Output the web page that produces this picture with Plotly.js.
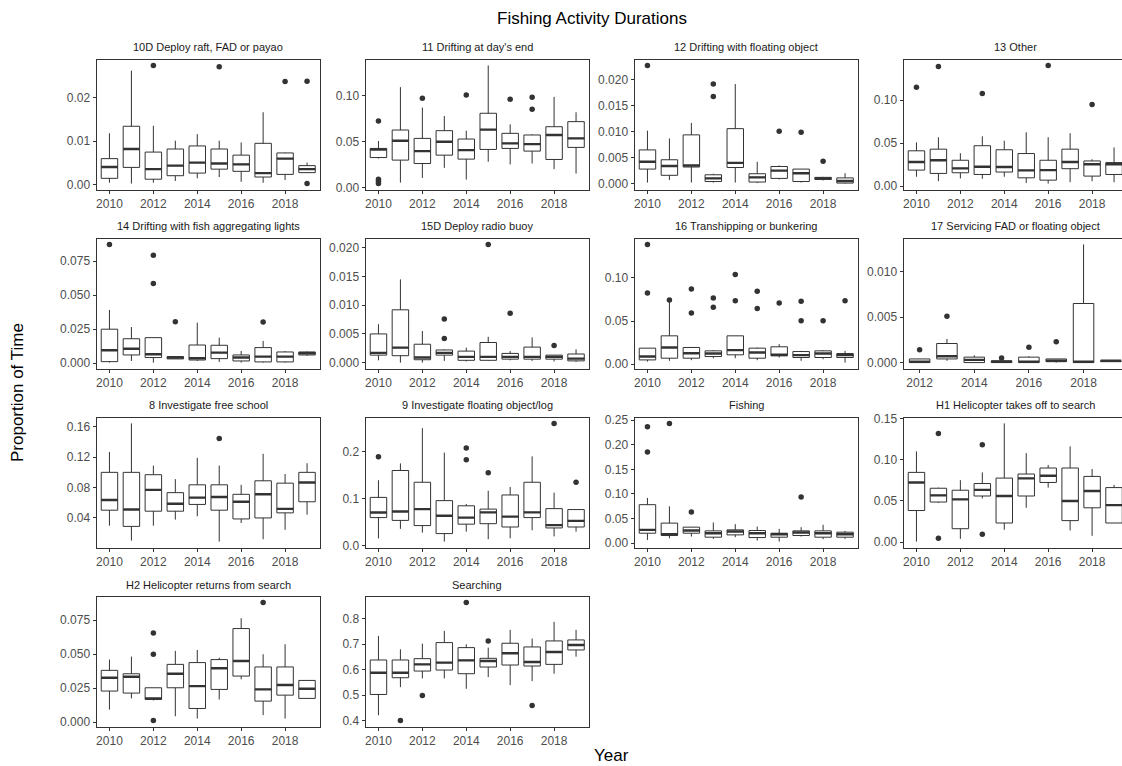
<!DOCTYPE html>
<html><head><meta charset="utf-8">
<script src="https://cdn.plot.ly/plotly-3.0.1.min.js"></script>
<style>html,body{margin:0;padding:0;background:#fff}#chart{width:1122px;height:766px}</style>
</head><body><div id="chart"></div>
<script>
// ---------- DATA ----------
const years = [2010,2011,2012,2013,2014,2015,2016,2017,2018,2019];
const years17 = [2012,2013,2014,2015,2016,2017,2018,2019];

// 10D Deploy raft, FAD or payao
const raft_low  = [0.0005,0.0003,0.0005,0.0009,0.0015,0.0018,0.0007,0.0005,0.0011,0.0027];
const raft_q1   = [0.0015,0.0040,0.0013,0.0021,0.0027,0.0036,0.0031,0.0018,0.0024,0.0028];
const raft_med  = [0.0041,0.0082,0.0036,0.0044,0.0051,0.0049,0.0047,0.0027,0.0060,0.0036];
const raft_q3   = [0.0060,0.0134,0.0075,0.0082,0.0089,0.0082,0.0068,0.0095,0.0073,0.0044];
const raft_high = [0.0118,0.0261,0.0135,0.0101,0.0116,0.0101,0.0097,0.0166,0.0074,0.0051];
const raft_outX = [2012,2015,2018,2019,2019];
const raft_outY = [0.0273,0.0270,0.0236,0.0237,0.0003];

// 11 Drifting at day's end
const dayend_low  = [0.0320,0.0058,0.0109,0.0218,0.0091,0.0284,0.0255,0.0265,0.0204,0.0156];
const dayend_q1   = [0.0330,0.0302,0.0265,0.0356,0.0313,0.0418,0.0429,0.0400,0.0309,0.0440];
const dayend_med  = [0.0418,0.0513,0.0400,0.0502,0.0411,0.0633,0.0484,0.0476,0.0575,0.0538];
const dayend_q3   = [0.0429,0.0629,0.0538,0.0622,0.0531,0.0811,0.0593,0.0575,0.0665,0.0720];
const dayend_high = [0.0510,0.1095,0.0873,0.0782,0.0622,0.1331,0.0691,0.0582,0.0989,0.0822];
const dayend_outX = [2010,2010,2010,2010,2012,2014,2016,2017,2017];
const dayend_outY = [0.0727,0.0095,0.0073,0.0047,0.0975,0.1010,0.0964,0.0985,0.0855];

// 12 Drifting with floating object
const floatobj_low  = [0.0002,0.0007,0.0002,0.0002,0.0002,0.0001,0.0008,0.0002,0.0006,0.0000];
const floatobj_q1   = [0.0028,0.0016,0.0032,0.0004,0.0031,0.0003,0.0010,0.0004,0.0008,0.0001];
const floatobj_med  = [0.0042,0.0034,0.0035,0.0010,0.0040,0.0012,0.0025,0.0020,0.0010,0.0005];
const floatobj_q3   = [0.0065,0.0046,0.0094,0.0017,0.0106,0.0019,0.0033,0.0028,0.0012,0.0011];
const floatobj_high = [0.0102,0.0087,0.0117,0.0019,0.0192,0.0042,0.0035,0.0028,0.0013,0.0020];
const floatobj_outX = [2010,2013,2013,2016,2017,2018];
const floatobj_outY = [0.0228,0.0192,0.0168,0.0101,0.0099,0.0043];

// 13 Other
const other_low  = [0.0110,0.0059,0.0090,0.0086,0.0110,0.0039,0.0031,0.0047,0.0059,0.0047];
const other_q1   = [0.0188,0.0149,0.0157,0.0137,0.0165,0.0098,0.0071,0.0204,0.0118,0.0137];
const other_med  = [0.0282,0.0302,0.0208,0.0227,0.0224,0.0184,0.0188,0.0282,0.0255,0.0255];
const other_q3   = [0.0412,0.0431,0.0302,0.0471,0.0424,0.0380,0.0302,0.0431,0.0294,0.0275];
const other_high = [0.0510,0.0569,0.0384,0.0580,0.0529,0.0627,0.0569,0.0616,0.0314,0.0451];
const other_outX = [2010,2011,2013,2016,2018];
const other_outY = [0.1149,0.1392,0.1078,0.1404,0.0949];

// 14 Drifting with fish aggregating lights
const lights_low  = [0.0005,0.0017,0.0005,0.0032,0.0017,0.0010,0.0005,0.0005,0.0005,0.0054];
const lights_q1   = [0.0012,0.0061,0.0042,0.0032,0.0024,0.0034,0.0017,0.0010,0.0010,0.0061];
const lights_med  = [0.0095,0.0107,0.0066,0.0042,0.0037,0.0078,0.0042,0.0049,0.0049,0.0073];
const lights_q3   = [0.0250,0.0180,0.0188,0.0049,0.0134,0.0132,0.0061,0.0115,0.0083,0.0083];
const lights_high = [0.0391,0.0266,0.0188,0.0049,0.0298,0.0188,0.0090,0.0164,0.0090,0.0086];
const lights_outX = [2010,2012,2012,2013,2017];
const lights_outY = [0.0872,0.0792,0.0586,0.0305,0.0303];

// 15D Deploy radio buoy
const buoy_low  = [0.0004,0.0000,0.0000,0.0003,0.0002,0.0003,0.0004,0.0003,0.0002,0.0001];
const buoy_q1   = [0.0013,0.0012,0.0005,0.0013,0.0004,0.0004,0.0006,0.0006,0.0006,0.0003];
const buoy_med  = [0.0017,0.0026,0.0009,0.0017,0.0010,0.0010,0.0010,0.0010,0.0010,0.0007];
const buoy_q3   = [0.0050,0.0092,0.0032,0.0022,0.0020,0.0035,0.0016,0.0027,0.0013,0.0015];
const buoy_high = [0.0067,0.0145,0.0055,0.0023,0.0026,0.0045,0.0020,0.0044,0.0013,0.0023];
const buoy_outX = [2013,2013,2015,2016,2018];
const buoy_outY = [0.0076,0.0042,0.0206,0.0086,0.0030];

// 16 Transhipping or bunkering
const tranship_low  = [0.0031,0.0039,0.0047,0.0070,0.0070,0.0047,0.0078,0.0039,0.0058,0.0019];
const tranship_q1   = [0.0050,0.0070,0.0070,0.0089,0.0109,0.0070,0.0097,0.0078,0.0078,0.0078];
const tranship_med  = [0.0089,0.0194,0.0128,0.0124,0.0163,0.0136,0.0109,0.0105,0.0124,0.0105];
const tranship_q3   = [0.0186,0.0329,0.0194,0.0155,0.0329,0.0186,0.0202,0.0147,0.0155,0.0124];
const tranship_high = [0.0186,0.0730,0.0194,0.0163,0.0329,0.0194,0.0233,0.0155,0.0163,0.0155];
const tranship_outX = [2010,2010,2011,2012,2012,2013,2013,2014,2014,2015,2015,2016,2017,2017,2018,2019];
const tranship_outY = [0.1388,0.0826,0.0744,0.0872,0.0593,0.0767,0.0659,0.1039,0.0736,0.0845,0.0647,0.0709,0.0729,0.0504,0.0504,0.0736];

// 17 Servicing FAD or floating object (2012-2019)
const servicing_low  = [0.0000,0.0002,0.0000,0.0000,0.0000,0.0000,0.0000,0.0001];
const servicing_q1   = [0.0000,0.0004,0.0000,0.0000,0.0000,0.0001,0.0000,0.0001];
const servicing_med  = [0.0001,0.0007,0.0003,0.0001,0.0001,0.0002,0.0001,0.0002];
const servicing_q3   = [0.0004,0.0021,0.0006,0.0002,0.0006,0.0004,0.0065,0.0002];
const servicing_high = [0.0004,0.0026,0.0008,0.0002,0.0007,0.0004,0.0130,0.0002];
const servicing_outX = [2012,2013,2015,2016,2017];
const servicing_outY = [0.0014,0.0051,0.0005,0.0017,0.0023];

// 8 Investigate free school
const freeschool_low  = [0.0298,0.0102,0.0298,0.0378,0.0422,0.0089,0.0333,0.0120,0.0244,0.0444];
const freeschool_q1   = [0.0502,0.0289,0.0489,0.0489,0.0578,0.0502,0.0387,0.0400,0.0467,0.0613];
const freeschool_med  = [0.0636,0.0511,0.0769,0.0587,0.0667,0.0676,0.0613,0.0711,0.0520,0.0867];
const freeschool_q3   = [0.1000,0.1000,0.0969,0.0733,0.0836,0.0836,0.0711,0.0889,0.0858,0.1000];
const freeschool_high = [0.1267,0.1644,0.1089,0.0911,0.1191,0.1089,0.0836,0.1244,0.0978,0.1120];
const freeschool_outX = [2015];
const freeschool_outY = [0.1444];

// 9 Investigate floating object/log
const invlog_low  = [0.0157,0.0360,0.0280,0.0090,0.0300,0.0140,0.0160,0.0330,0.0200,0.0300];
const invlog_q1   = [0.0600,0.0540,0.0430,0.0260,0.0460,0.0470,0.0400,0.0600,0.0380,0.0400];
const invlog_med  = [0.0707,0.0730,0.0780,0.0640,0.0600,0.0710,0.0620,0.0710,0.0440,0.0530];
const invlog_q3   = [0.1029,0.1600,0.1350,0.0960,0.0850,0.0780,0.1080,0.1350,0.0790,0.0770];
const invlog_high = [0.1393,0.1750,0.2500,0.1980,0.0890,0.1170,0.1250,0.1900,0.1130,0.0780];
const invlog_outX = [2010,2014,2014,2015,2018,2019];
const invlog_outY = [0.1893,0.2080,0.1830,0.1550,0.2600,0.1350];

// Fishing
const fishing_low  = [0.0068,0.0102,0.0136,0.0089,0.0123,0.0054,0.0034,0.0136,0.0082,0.0089];
const fishing_q1   = [0.0204,0.0157,0.0204,0.0123,0.0170,0.0116,0.0123,0.0157,0.0123,0.0123];
const fishing_med  = [0.0272,0.0184,0.0259,0.0204,0.0238,0.0204,0.0184,0.0218,0.0204,0.0184];
const fishing_q3   = [0.0783,0.0409,0.0327,0.0252,0.0272,0.0259,0.0204,0.0252,0.0252,0.0225];
const fishing_high = [0.0920,0.0749,0.0327,0.0422,0.0388,0.0340,0.0293,0.0327,0.0375,0.0252];
const fishing_outX = [2010,2010,2011,2012,2017];
const fishing_outY = [0.2364,0.1853,0.2432,0.0633,0.0940];

// H1 Helicopter takes off to search
const heli1_low  = [0.0008,0.0478,0.0041,0.0531,0.0151,0.0417,0.0662,0.0143,0.0078,0.0233];
const heli1_q1   = [0.0384,0.0487,0.0164,0.0560,0.0233,0.0560,0.0724,0.0262,0.0417,0.0233];
const heli1_med  = [0.0724,0.0568,0.0519,0.0634,0.0560,0.0773,0.0805,0.0499,0.0621,0.0450];
const heli1_q3   = [0.0846,0.0654,0.0630,0.0711,0.0777,0.0826,0.0899,0.0899,0.0797,0.0662];
const heli1_high = [0.1100,0.0662,0.0752,0.0846,0.1439,0.1079,0.0936,0.1161,0.0887,0.0695];
const heli1_outX = [2011,2011,2013,2013];
const heli1_outY = [0.1316,0.0049,0.1182,0.0098];

// H2 Helicopter returns from search
const heli2_low  = [0.0093,0.0175,0.0160,0.0044,0.0027,0.0167,0.0315,0.0052,0.0027,0.0175];
const heli2_q1   = [0.0229,0.0214,0.0167,0.0253,0.0101,0.0241,0.0339,0.0155,0.0199,0.0175];
const heli2_med  = [0.0327,0.0334,0.0175,0.0356,0.0265,0.0396,0.0450,0.0241,0.0273,0.0246];
const heli2_q3   = [0.0381,0.0356,0.0253,0.0425,0.0438,0.0460,0.0688,0.0406,0.0406,0.0307];
const heli2_high = [0.0460,0.0482,0.0253,0.0524,0.0531,0.0474,0.0764,0.0499,0.0573,0.0307];
const heli2_outX = [2012,2012,2012,2017];
const heli2_outY = [0.0656,0.0499,0.0012,0.0880];

// Searching
const search_low  = [0.4210,0.5311,0.5652,0.5652,0.5246,0.5705,0.5390,0.5548,0.5836,0.6505];
const search_q1   = [0.5023,0.5679,0.5941,0.5980,0.5836,0.6098,0.6177,0.6138,0.6203,0.6767];
const search_med  = [0.5875,0.5875,0.6203,0.6269,0.6361,0.6334,0.6636,0.6295,0.6689,0.6964];
const search_q3   = [0.6374,0.6374,0.6426,0.7056,0.6859,0.6439,0.7030,0.6885,0.7121,0.7160];
const search_high = [0.7318,0.6793,0.7016,0.7515,0.6990,0.6859,0.7554,0.7213,0.7869,0.7554];
const search_outX = [2011,2012,2014,2015,2017];
const search_outY = [0.4000,0.4984,0.8630,0.7121,0.4590];

const panelTitles = ["10D Deploy raft, FAD or payao","11 Drifting at day's end","12 Drifting with floating object","13 Other",
  "14 Drifting with fish aggregating lights","15D Deploy radio buoy","16 Transhipping or bunkering","17 Servicing FAD or floating object",
  "8 Investigate free school","9 Investigate floating object/log","Fishing","H1 Helicopter takes off to search",
  "H2 Helicopter returns from search","Searching"];
const yTickStep = [0.01,0.05,0.005,0.05, 0.025,0.005,0.05,0.005, 0.04,0.1,0.05,0.05, 0.025,0.1];
const yTickFmt  = [".2f",".2f",".3f",".2f", ".3f",".3f",".2f",".3f", ".2f",".1f",".2f",".2f", ".3f",".1f"];
const chartTitle = "Fishing Activity Durations";
const xTitle = "Year";
const yTitle = "Proportion of Time";

// ---------- BUILD ----------
const panels = [
  [years, raft_low, raft_q1, raft_med, raft_q3, raft_high, raft_outX, raft_outY],
  [years, dayend_low, dayend_q1, dayend_med, dayend_q3, dayend_high, dayend_outX, dayend_outY],
  [years, floatobj_low, floatobj_q1, floatobj_med, floatobj_q3, floatobj_high, floatobj_outX, floatobj_outY],
  [years, other_low, other_q1, other_med, other_q3, other_high, other_outX, other_outY],
  [years, lights_low, lights_q1, lights_med, lights_q3, lights_high, lights_outX, lights_outY],
  [years, buoy_low, buoy_q1, buoy_med, buoy_q3, buoy_high, buoy_outX, buoy_outY],
  [years, tranship_low, tranship_q1, tranship_med, tranship_q3, tranship_high, tranship_outX, tranship_outY],
  [years17, servicing_low, servicing_q1, servicing_med, servicing_q3, servicing_high, servicing_outX, servicing_outY],
  [years, freeschool_low, freeschool_q1, freeschool_med, freeschool_q3, freeschool_high, freeschool_outX, freeschool_outY],
  [years, invlog_low, invlog_q1, invlog_med, invlog_q3, invlog_high, invlog_outX, invlog_outY],
  [years, fishing_low, fishing_q1, fishing_med, fishing_q3, fishing_high, fishing_outX, fishing_outY],
  [years, heli1_low, heli1_q1, heli1_med, heli1_q3, heli1_high, heli1_outX, heli1_outY],
  [years, heli2_low, heli2_q1, heli2_med, heli2_q3, heli2_high, heli2_outX, heli2_outY],
  [years, search_low, search_q1, search_med, search_q3, search_high, search_outX, search_outY]
];

const W = 1122, H = 766;
const colL = [96.5, 365.5, 634.5, 903.5], PW = 223.5;
const rowT = [59.5, 238.5, 417.5, 596.5], PH = 130;
const BOXW = 0.75, XPAD = 0.59;
const LINE = '#333333';
const FONT = 'Liberation Sans, Arial, sans-serif';

const traces = [];
const layout = {
  width: W, height: H, showlegend: false,
  margin: {l:0, r:0, t:0, b:0},
  paper_bgcolor: '#ffffff', plot_bgcolor: '#ffffff',
  font: {family: FONT, color: '#4d4d4d', size: 12},
  annotations: []
};

panels.forEach((p, i) => {
  const [x, lo, q1, med, q3, hi, ox, oy] = p;
  const r = Math.floor(i / 4), c = i % 4;
  const L = colL[c], R = Math.min(L + PW, W), T = rowT[r], B = T + PH;
  const n = i + 1, sfx = n === 1 ? '' : String(n);
  const xa = 'x' + sfx, ya = 'y' + sfx;

  const xmin = Math.min(...x), xmax = Math.max(...x);
  const ppy = PW / (xmax - xmin + 2 * XPAD);
  const x0 = xmin - XPAD, x1 = x0 + (R - L) / ppy;

  const allY = lo.concat(hi, oy);
  const ymin = Math.min(...allY), ymax = Math.max(...allY);
  const pad = (ymax - ymin) * 0.05;

  traces.push({
    type: 'box', x: x, q1: q1, median: med, q3: q3, lowerfence: lo, upperfence: hi,
    width: BOXW, boxpoints: false, fillcolor: '#ffffff',
    line: {color: LINE, width: 1}, whiskerwidth: 0,
    xaxis: xa, yaxis: ya, hoverinfo: 'skip'
  });
  // thicker median bars
  const mx = [], my = [];
  x.forEach((xv, k) => { mx.push(xv - BOXW/2, xv + BOXW/2, null); my.push(med[k], med[k], null); });
  traces.push({type: 'scatter', mode: 'lines', x: mx, y: my, line: {color: LINE, width: 2.4},
    xaxis: xa, yaxis: ya, hoverinfo: 'skip'});
  traces.push({type: 'scatter', mode: 'markers', x: ox, y: oy,
    marker: {color: LINE, size: 5.5}, xaxis: xa, yaxis: ya, hoverinfo: 'skip'});

  layout['xaxis' + sfx] = {
    domain: [L / W, R / W], anchor: ya, range: [x0, x1],
    tick0: 2010, dtick: 2, ticks: 'outside', ticklen: 3, tickwidth: 1, tickcolor: LINE,
    showline: true, linecolor: LINE, linewidth: 1, mirror: true,
    showgrid: false, zeroline: false, tickfont: {size: 12, color: '#4d4d4d'}, fixedrange: true
  };
  layout['yaxis' + sfx] = {
    domain: [1 - B / H, 1 - T / H], anchor: xa, range: [ymin - pad, ymax + pad],
    tick0: 0, dtick: yTickStep[i], tickformat: yTickFmt[i],
    ticks: 'outside', ticklen: 3, tickwidth: 1, tickcolor: LINE,
    showline: true, linecolor: LINE, linewidth: 1, mirror: (c === 3 ? false : true),
    showgrid: false, zeroline: false, tickfont: {size: 12, color: '#4d4d4d'}, fixedrange: true
  };
  layout.annotations.push({
    text: panelTitles[i], xref: 'paper', yref: 'paper',
    x: (L + PW / 2) / W, y: 1 - (T - 12) / H, xanchor: 'center', yanchor: 'middle',
    showarrow: false, font: {size: 11, color: '#1a1a1a', family: FONT}
  });
});

layout.annotations.push({
  text: chartTitle, xref: 'paper', yref: 'paper', x: 592 / W, y: 1 - 18 / H,
  xanchor: 'center', yanchor: 'middle', showarrow: false, font: {size: 17, color: '#000000', family: FONT}
});
layout.annotations.push({
  text: xTitle, xref: 'paper', yref: 'paper', x: 611 / W, y: 1 - 755 / H,
  xanchor: 'center', yanchor: 'middle', showarrow: false, font: {size: 17, color: '#000000', family: FONT}
});
layout.annotations.push({
  text: yTitle, xref: 'paper', yref: 'paper', x: 18 / W, y: 1 - 393 / H, textangle: -90,
  xanchor: 'center', yanchor: 'middle', showarrow: false, font: {size: 17, color: '#000000', family: FONT}
});

Plotly.newPlot('chart', traces, layout, {displayModeBar: false, staticPlot: true});
</script>
</body></html>
